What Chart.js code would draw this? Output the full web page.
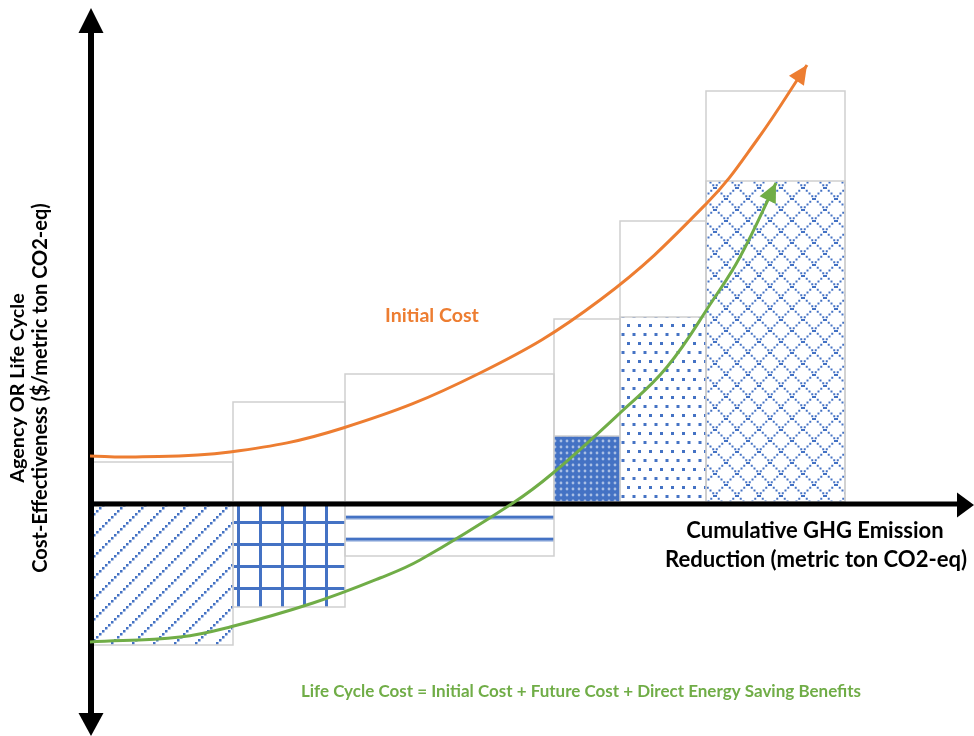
<!DOCTYPE html>
<html lang="en">
<head>
    <meta charset="UTF-8">
    <title>Cost-Effectiveness Curve</title>
    <script src="https://cdn.jsdelivr.net/npm/chart.js"></script>
    <style>
        body {
            margin: 0;
            padding: 0;
            background-color: #fff;
        }
        canvas {
            display: block;
        }
    </style>
</head>
<body>
    <canvas id="chart" width="974" height="736"></canvas>

    <script>
        // measures, left to right (widths = GHG reduction of each measure)
        const measures = ['Measure 1', 'Measure 2', 'Measure 3', 'Measure 4', 'Measure 5', 'Measure 6'];
        const reductions = [14.3, 11.2, 20.9, 6.6, 8.6, 13.9];
        const initialCost = [4.0, 10.0, 12.8, 18.3, 28.1, 41.1];
        const lifeCycleCost = [-14.3, -10.5, -5.4, 6.6, 18.5, 32.1];

        // trend curves
        const initialCurveX = [0, 4, 14, 25.3, 39, 51, 61.7, 66.7, 71.7];
        const initialCurveY = [4.6, 4.5, 5.0, 7.4, 12.9, 20.2, 29.9, 36.2, 43.7];
        const lifeCurveX = [0, 9, 14, 22.3, 29, 33, 42.3, 46.3, 53, 57.7, 62.3, 65, 68.6];
        const lifeCurveY = [-14.0, -13.5, -12.5, -10.1, -7.6, -5.8, -0.1, 2.9, 8.9, 13.5, 20.2, 24.5, 31.9];

        const BLUE = '#4472C4';
        const ORANGE = '#ED7D31';
        const GREEN = '#70AD47';
        const BOX = '#D0D0D0';
        const FONT = 'Lato, "Open Sans", sans-serif';

        function tile(w, h, draw) {
            const c = document.createElement('canvas');
            c.width = w;
            c.height = h;
            const g = c.getContext('2d');
            draw(g, w, h);
            return g.createPattern(c, 'repeat');
        }

        // one fill pattern per measure
        const patterns = [
            tile(21, 21, (g) => {
                g.fillStyle = BLUE;
                for (let i = 0; i < 7; i++) g.fillRect(i * 3, 18 - i * 3, 2.5, 2.5);
            }),
            tile(22, 22, (g) => {
                g.fillStyle = BLUE;
                g.fillRect(17, 0, 3, 22);
                g.fillRect(0, 15, 22, 3);
            }),
            tile(4, 22, (g) => {
                g.fillStyle = 'rgba(68,114,196,0.35)';
                g.fillRect(0, 9, 4, 5);
                g.fillStyle = BLUE;
                g.fillRect(0, 10, 4, 2.5);
            }),
            tile(6, 6, (g) => {
                g.fillStyle = BLUE;
                g.fillRect(0, 0, 6, 6);
                g.fillStyle = 'rgba(255,255,255,0.55)';
                g.beginPath();
                g.arc(3, 3, 1.4, 0, Math.PI * 2);
                g.fill();
            }),
            tile(11, 18, (g) => {
                g.fillStyle = BLUE;
                g.fillRect(0, 0, 3, 3);
                g.fillRect(5.5, 9, 3, 3);
            }),
            tile(22, 22, (g) => {
                g.fillStyle = BLUE;
                for (let i = 0; i < 8; i++) {
                    const p = i * 2.75;
                    g.fillRect(p, p, 2, 2);
                    g.fillRect(20 - p, p, 2, 2);
                }
            })
        ];

        // rectangle outline as a closed line
        function box(x0, x1, v) {
            return [{x: x0, y: 0}, {x: x1, y: 0}, {x: x1, y: v}, {x: x0, y: v}, {x: x0, y: 0}];
        }

        const datasets = [];
        let start = 0;
        measures.forEach((m, i) => {
            const end = start + reductions[i];
            datasets.push({
                label: m + ' initial cost',
                data: box(start, end, initialCost[i]),
                borderColor: BOX,
                borderWidth: 1.5,
                fill: false,
                tension: 0,
                order: 3
            });
            datasets.push({
                label: m + ' life cycle cost',
                data: box(start, end, lifeCycleCost[i]),
                borderColor: BOX,
                borderWidth: 1.5,
                backgroundColor: patterns[i],
                fill: 'shape',
                tension: 0,
                order: 2
            });
            start = end;
        });

        datasets.push({
            label: 'Life Cycle Cost',
            data: lifeCurveX.map((x, i) => ({x: x, y: lifeCurveY[i]})),
            borderColor: GREEN,
            borderWidth: 3,
            fill: false,
            tension: 0.4,
            order: 1,
            axesBefore: true,
            arrow: true
        });
        datasets.push({
            label: 'Initial Cost',
            data: initialCurveX.map((x, i) => ({x: x, y: initialCurveY[i]})),
            borderColor: ORANGE,
            borderWidth: 3,
            fill: false,
            tension: 0.4,
            order: 0,
            arrow: true
        });

        function triangle(ctx, tx, ty, angle, len, half) {
            const bx = tx - Math.cos(angle) * len;
            const by = ty - Math.sin(angle) * len;
            ctx.beginPath();
            ctx.moveTo(tx, ty);
            ctx.lineTo(bx + Math.sin(angle) * half, by - Math.cos(angle) * half);
            ctx.lineTo(bx - Math.sin(angle) * half, by + Math.cos(angle) * half);
            ctx.closePath();
            ctx.fill();
        }

        // bold text sized to the width it has in the picture
        function fitText(ctx, text, x, y, width) {
            ctx.font = 'bold 20px ' + FONT;
            const size = 20 * width / ctx.measureText(text).width;
            ctx.font = 'bold ' + size.toFixed(1) + 'px ' + FONT;
            ctx.fillText(text, x, y);
        }

        const diagramPlugin = {
            id: 'diagram',
            beforeDatasetDraw(chart, args) {
                if (!chart.data.datasets[args.index].axesBefore) return;
                const ctx = chart.ctx;
                const x0 = chart.scales.x.getPixelForValue(0) + 1;
                const y0 = chart.scales.y.getPixelForValue(0) + 2;
                ctx.save();
                ctx.fillStyle = '#000';
                // y axis, arrows both ways
                ctx.fillRect(x0 - 3, 30, 6, 686);
                triangle(ctx, x0, 8, -Math.PI / 2, 25, 12.5);
                triangle(ctx, x0, 736, Math.PI / 2, 23, 12.5);
                // x axis
                ctx.fillRect(x0, y0 - 2.5, 870, 5);
                triangle(ctx, 974, y0 + 1, 0, 17, 12.5);
                ctx.restore();
            },
            afterDatasetsDraw(chart) {
                const ctx = chart.ctx;
                chart.data.datasets.forEach((ds, i) => {
                    if (!ds.arrow) return;
                    const pts = chart.getDatasetMeta(i).data;
                    const a = pts[pts.length - 2];
                    const b = pts[pts.length - 1];
                    ctx.save();
                    ctx.fillStyle = ds.borderColor;
                    triangle(ctx, b.x, b.y, Math.atan2(b.y - a.y, b.x - a.x), 19, 9);
                    ctx.restore();
                });
            },
            afterDraw(chart) {
                const ctx = chart.ctx;
                const xs = chart.scales.x;
                const ys = chart.scales.y;
                ctx.save();
                ctx.textAlign = 'center';
                ctx.textBaseline = 'middle';

                ctx.fillStyle = ORANGE;
                fitText(ctx, 'Initial Cost', xs.getPixelForValue(34.2), ys.getPixelForValue(18.6), 94);

                ctx.fillStyle = '#000';
                fitText(ctx, 'Cumulative GHG Emission', 815, 531, 257);
                fitText(ctx, 'Reduction (metric ton CO2-eq)', 816, 560, 302);

                ctx.fillStyle = GREEN;
                fitText(ctx, 'Life Cycle Cost = Initial Cost + Future Cost + Direct Energy Saving Benefits', 581, 692, 560);

                ctx.fillStyle = '#000';
                ctx.translate(0, 388);
                ctx.rotate(-Math.PI / 2);
                fitText(ctx, 'Agency OR Life Cycle', 0, 18, 190);
                fitText(ctx, 'Cost-Effectiveness ($/metric ton CO2-eq)', 0, 41, 369);
                ctx.restore();
            }
        };

        new Chart(document.getElementById('chart').getContext('2d'), {
            type: 'line',
            data: { datasets: datasets },
            options: {
                responsive: false,
                animation: false,
                events: [],
                layout: { padding: { left: 90, right: 0, top: 0, bottom: 0 } },
                elements: { point: { radius: 0 } },
                datasets: { line: { clip: false } },
                plugins: {
                    legend: { display: false },
                    tooltip: { enabled: false }
                },
                scales: {
                    x: { type: 'linear', display: false, min: 0, max: 88.4 },
                    y: { type: 'linear', display: false, min: -23.4, max: 50.2 }
                }
            },
            plugins: [diagramPlugin]
        });
    </script>
</body>
</html>
